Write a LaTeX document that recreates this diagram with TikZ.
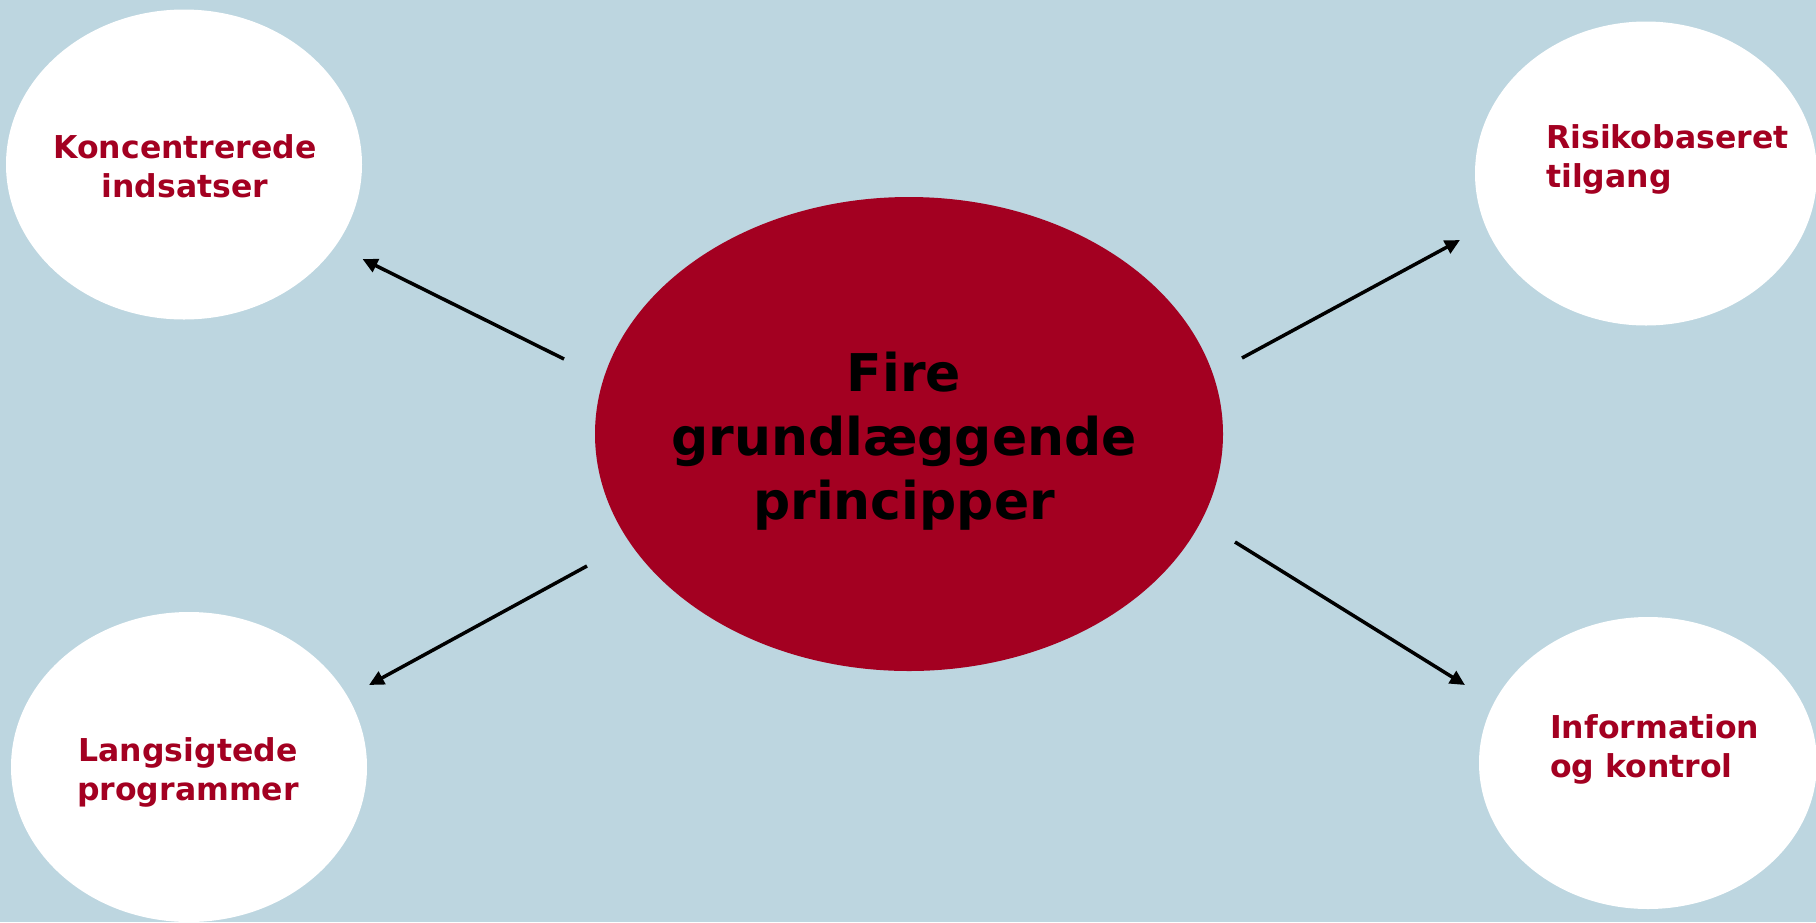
\documentclass[tikz,border=0pt]{standalone}
\usepackage{fontspec}
\setmainfont{DejaVu Sans}
\usetikzlibrary{shapes.geometric,arrows.meta}
\definecolor{bgblue}{RGB}{189,214,224}
\definecolor{darkred}{RGB}{163,0,33}
\begin{document}
\begin{tikzpicture}[x=1pt,y=-1pt,
  bubble/.style={ellipse,fill=white,draw=none,inner sep=0pt},
  hub/.style={ellipse,fill=darkred,draw=none,inner sep=0pt},
  smalltext/.style={inner sep=0pt,text=darkred,font=\bfseries\fontsize{31.5}{39}\selectfont},
  bigtext/.style={inner sep=0pt,text=black,align=center,font=\bfseries\fontsize{52}{64}\selectfont},
  conn/.style={line width=3.5pt,-{Triangle[length=15pt,width=14pt]}}]
\useasboundingbox (0,0) rectangle (1816,922);
\fill[bgblue] (0,0) rectangle (1816,922);

\node[hub,minimum width=628pt,minimum height=474pt] (hub) at (909,434) {};
\node[bubble,minimum width=356pt,minimum height=310pt] (tl) at (184,164.5) {};
\node[bubble,minimum width=342pt,minimum height=304pt] (tr) at (1646,173.5) {};
\node[bubble,minimum width=356pt,minimum height=310pt] (bl) at (189,767) {};
\node[bubble,minimum width=338pt,minimum height=292pt] (br) at (1648,763) {};

\node[bigtext,anchor=north] (hubtext) at (904,352) {Fire\\grundlæggende\\principper};
\node[smalltext,align=center,anchor=north] (tltext) at (185,134) {Koncentrerede\\indsatser};
\node[smalltext,align=left,anchor=north west] (trtext) at (1546,124) {Risikobaseret\\tilgang};
\node[smalltext,align=center,anchor=north] (bltext) at (188,737) {Langsigtede\\programmer};
\node[smalltext,align=left,anchor=north west] (brtext) at (1550,714) {Information\\og kontrol};

\coordinate (s1) at (564,359);  \coordinate (e1) at (362.5,259);
\coordinate (s2) at (1242,358); \coordinate (e2) at (1460,240);
\coordinate (s3) at (587,566);  \coordinate (e3) at (369,685);
\coordinate (s4) at (1235,542); \coordinate (e4) at (1465,685);

\draw[conn] (s1) -- (e1);
\draw[conn] (s2) -- (e2);
\draw[conn] (s3) -- (e3);
\draw[conn] (s4) -- (e4);
\end{tikzpicture}
\end{document}
